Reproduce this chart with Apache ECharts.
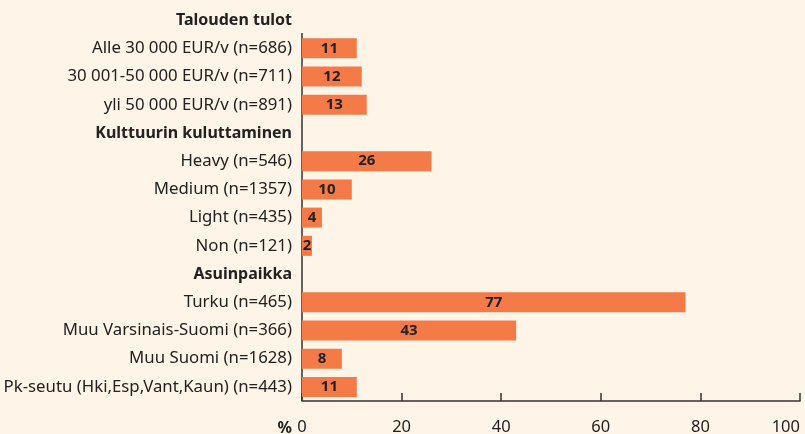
<!DOCTYPE html>
<html>
<head>
<meta charset="utf-8">
<script src="https://cdn.jsdelivr.net/npm/echarts@6/dist/echarts.min.js"></script>
<style>
  html, body { margin: 0; padding: 0; background: #fef5e8; }
  #chart { width: 805px; height: 434px; }
</style>
</head>
<body>
<div id="chart"></div>
<script>
// group headers and rows (values in %)
var headers = ['Talouden tulot', 'Kulttuurin kuluttaminen', 'Asuinpaikka'];

var incomeCats = ['Alle 30 000 EUR/v (n=686)', '30 001-50 000 EUR/v (n=711)', 'yli 50 000 EUR/v (n=891)'];
var incomeVals = [11, 12, 13];

var cultureCats = ['Heavy (n=546)', 'Medium (n=1357)', 'Light (n=435)', 'Non (n=121)'];
var cultureVals = [26, 10, 4, 2];

var placeCats = ['Turku (n=465)', 'Muu Varsinais-Suomi (n=366)', 'Muu Suomi (n=1628)', 'Pk-seutu (Hki,Esp,Vant,Kaun) (n=443)'];
var placeVals = [77, 43, 8, 11];

var xTicks = [0, 20, 40, 60, 80, 100];

var groups = [
    [headers[0], incomeCats, incomeVals],
    [headers[1], cultureCats, cultureVals],
    [headers[2], placeCats, placeVals]
];
var categories = [];
var values = [];
groups.forEach(function (g) {
    categories.push(g[0]);
    values.push(null);
    g[1].forEach(function (c, i) {
        categories.push(c);
        values.push(g[2][i]);
    });
});

var font = 'Noto Sans';
var ink = '#222222';

var chart = echarts.init(document.getElementById('chart'));

chart.setOption({
    backgroundColor: '#fef5e8',
    animation: false,
    grid: {
        left: 302,
        right: 5,
        top: 6,
        bottom: 33,
        containLabel: false,
        outerBoundsMode: 'none'
    },
    xAxis: {
        type: 'value',
        min: xTicks[0],
        max: xTicks[xTicks.length - 1],
        interval: 20,
        axisLine: { show: true, lineStyle: { color: '#333', width: 1.5 } },
        axisTick: { show: true, inside: true, length: 8, lineStyle: { color: '#333', width: 1.5 } },
        splitLine: { show: false },
        axisLabel: {
            margin: 18,
            fontFamily: font,
            fontSize: 16.5,
            color: ink,
            alignMaxLabel: 'right'
        }
    },
    yAxis: {
        type: 'category',
        inverse: true,
        data: categories,
        axisLine: { show: false },
        axisTick: { show: false },
        axisLabel: {
            margin: 10,
            fontFamily: font,
            fontSize: 16.8,
            color: ink,
            formatter: function (v) {
                return headers.indexOf(v) >= 0 ? '{h|' + v + '}' : v;
            },
            rich: {
                h: { fontFamily: font, fontSize: 16, fontWeight: 'bold', color: ink }
            }
        }
    },
    series: [{
        type: 'bar',
        data: values,
        barWidth: 20,
        itemStyle: { color: '#f47a47' },
        label: {
            show: true,
            position: 'inside',
            fontFamily: font,
            fontWeight: 'bold',
            fontSize: 15,
            color: ink
        }
    }]
});

// vertical axis line starts just below the first group header, "%" sits left of the tick labels
var x0 = chart.convertToPixel({ xAxisIndex: 0 }, 0);
var yTop = chart.convertToPixel({ yAxisIndex: 0 }, 0) + 13;
var yBottom = 434 - 33;
chart.setOption({
    graphic: [{
        type: 'line',
        shape: { x1: x0, y1: yTop, x2: x0, y2: yBottom },
        style: { stroke: '#333', lineWidth: 1.5 }
    }, {
        type: 'text',
        x: x0 - 10,
        y: yBottom + 27,
        style: {
            text: '%',
            align: 'right',
            verticalAlign: 'middle',
            fontFamily: font,
            fontWeight: 'bold',
            fontSize: 16,
            fill: ink
        }
    }]
});
</script>
</body>
</html>
